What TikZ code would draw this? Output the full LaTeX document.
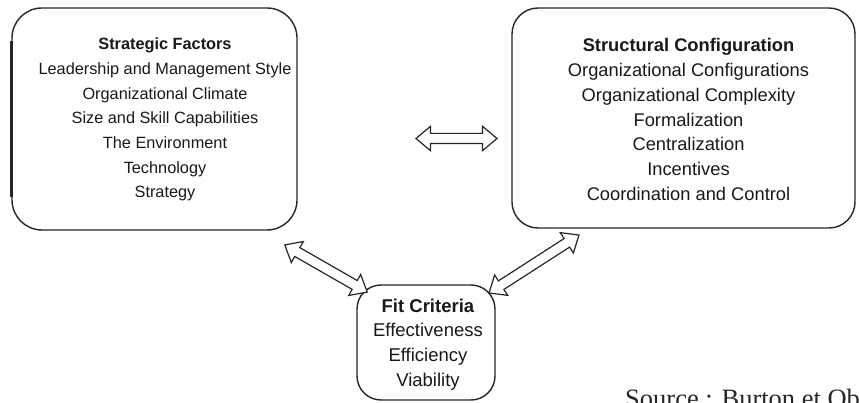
\documentclass[tikz,border=0pt]{standalone}
\usepackage{fontspec}
\setmainfont{Liberation Sans}
\newfontfamily\srcfont{Liberation Serif}
\usetikzlibrary{shapes.arrows,calc}
\begin{document}
\begin{tikzpicture}[x=1pt,y=-1pt,
  panel/.style={draw=black!85, line width=1.4pt, inner sep=0pt},
  label/.style={align=center, inner sep=0pt, text=black!90},
  hollow/.style={double arrow, draw=black!85, line width=1.2pt, fill=white,
    inner xsep=0pt, inner ysep=4.5pt, double arrow head extend=7pt,
    double arrow tip angle=80, sloped}]
  % page frame
  \clip (0,0) rectangle (859,403);
  \fill[white] (0,0) rectangle (859,403);

  % the three groups
  \node[panel, rounded corners=30pt, minimum width=285pt, minimum height=222pt]
    (sf) at (154.5,119) {};
  \draw[line width=3pt, black!85] ($(sf.north west)+(0,34)$) -- ($(sf.south west)+(0,-34)$);
  \node[label, font=\fontsize{16.3}{24.7}\selectfont] (sft) at (165,119.5)
    {\textbf{Strategic Factors}\\
     Leadership and Management Style\\
     Organizational Climate\\
     Size and Skill Capabilities\\
     The Environment\\
     Technology\\
     Strategy};

  \node[panel, rounded corners=26pt, minimum width=343pt, minimum height=220pt]
    (sc) at (683.5,118) {};
  \node[label, font=\fontsize{18.3}{24.7}\selectfont] (sct) at (688.5,119.5)
    {\textbf{Structural Configuration}\\
     Organizational Configurations\\
     Organizational Complexity\\
     Formalization\\
     Centralization\\
     Incentives\\
     Coordination and Control};

  \node[panel, rounded corners=24pt, minimum width=138pt, minimum height=115pt]
    (fc) at (426,342.5) {};
  \node[label, font=\fontsize{18.5}{24.7}\selectfont] (fct) at (428,344.5)
    {\textbf{Fit Criteria}\\
     Effectiveness\\
     Efficiency\\
     Viability};

  % free ends of the links
  \coordinate (m1) at (416,138.5);
  \coordinate (m2) at (497,138.5);
  \coordinate (l1) at (285,245);
  \coordinate (l2) at (367,292);
  \coordinate (r1) at (579,235);
  \coordinate (r2) at (489,293);

  % two-way links
  \path (m1) -- node[hollow, minimum height=81pt] (msc) {} (m2);
  \path (l1) -- node[hollow, minimum height=95pt] (lfc) {} (l2);
  \path (r1) -- node[hollow, minimum height=107pt] (rfc) {} (r2);

  % source line, running off the page
  \node[anchor=base west, inner sep=0pt, font=\srcfont\fontsize{26.5}{26.5}\selectfont,
    text=black!85] (src) at (625,407) {Source : Burton et Obel};
\end{tikzpicture}
\end{document}
